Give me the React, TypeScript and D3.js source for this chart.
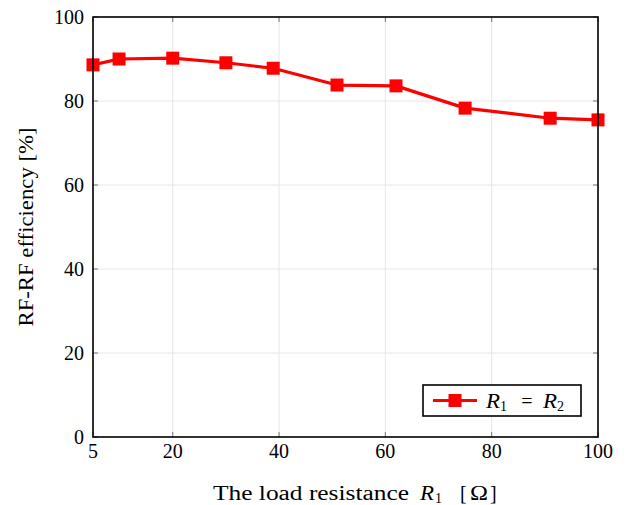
import React from "react";
import * as d3 from "d3";

const resistance = [5, 9.9, 20, 30, 38.9, 50.9, 62, 75, 91, 100];
const efficiency = [88.6, 90.0, 90.2, 89.1, 87.8, 83.8, 83.6, 78.3, 75.9, 75.5];
const xTicks = [5, 20, 40, 60, 80, 100];
const yTicks = [0, 20, 40, 60, 80, 100];

const W = 626, H = 505;
const m = { left: 93, right: 598, top: 17, bottom: 437 };
const font = "'Liberation Serif', serif";

export default function App() {
  const x = d3.scaleLinear().domain([5, 100]).range([m.left, m.right]);
  const y = d3.scaleLinear().domain([0, 100]).range([m.bottom, m.top]);
  const pts: [number, number][] = resistance.map((r, i) => [r, efficiency[i]]);
  const line = d3.line<[number, number]>().x(d => x(d[0])).y(d => y(d[1]));
  const ms = 13;
  return (
    <svg width={W} height={H} style={{ position: "absolute", left: 0, top: 0 }} fontFamily={font}>
      <rect x={0} y={0} width={W} height={H} fill="#fff" />
      {xTicks.map(t => (
        <line key={"gx" + t} x1={x(t)} x2={x(t)} y1={m.top} y2={m.bottom} stroke="#e6e6e6" strokeWidth={1} />
      ))}
      {yTicks.map(t => (
        <line key={"gy" + t} x1={m.left} x2={m.right} y1={y(t)} y2={y(t)} stroke="#e6e6e6" strokeWidth={1} />
      ))}
      {xTicks.map(t => (
        <g key={"tx" + t}>
          <line x1={x(t)} x2={x(t)} y1={m.bottom} y2={m.bottom - 5} stroke="#777" />
          <line x1={x(t)} x2={x(t)} y1={m.top} y2={m.top + 5} stroke="#777" />
          <text x={x(t)} y={m.bottom + 21} textAnchor="middle" fontSize={20}>{t}</text>
        </g>
      ))}
      {yTicks.map(t => (
        <g key={"ty" + t}>
          <line x1={m.left} x2={m.left + 5} y1={y(t)} y2={y(t)} stroke="#777" />
          <line x1={m.right} x2={m.right - 5} y1={y(t)} y2={y(t)} stroke="#777" />
          <text x={m.left - 9} y={y(t) + 7} textAnchor="end" fontSize={20}>{t}</text>
        </g>
      ))}
      <path d={line(pts) || ""} fill="none" stroke="#ff0000" strokeWidth={3.2} strokeLinejoin="round" />
      {pts.map((p, i) => (
        <rect key={i} x={x(p[0]) - ms / 2} y={y(p[1]) - ms / 2} width={ms} height={ms} fill="#ff0000" />
      ))}
      <rect x={m.left} y={m.top} width={m.right - m.left} height={m.bottom - m.top} fill="none" stroke="#000" strokeWidth={1.6} />
      <g fontSize={20}>
        <rect x={423} y={385} width={158} height={31} fill="#fff" stroke="#000" strokeWidth={1.6} />
        <line x1={433} x2={477} y1={400.5} y2={400.5} stroke="#ff0000" strokeWidth={3.2} />
        <rect x={455 - ms / 2} y={400.5 - ms / 2} width={ms} height={ms} fill="#ff0000" />
        <text x={486} y={407.5} fontStyle="italic" textLength={14} lengthAdjust="spacingAndGlyphs">R</text>
        <text x={500} y={410.5} fontSize={14}>1</text>
        <text x={527} y={407.5} textAnchor="middle">=</text>
        <text x={543} y={407.5} fontStyle="italic" textLength={14} lengthAdjust="spacingAndGlyphs">R</text>
        <text x={557} y={410.5} fontSize={14}>2</text>
      </g>
      <g fontSize={20}>
        <text x={213} y={500} textLength={196} lengthAdjust="spacingAndGlyphs">The load resistance</text>
        <text x={420} y={500} fontStyle="italic" textLength={14} lengthAdjust="spacingAndGlyphs">R</text>
        <text x={435} y={503} fontSize={14}>1</text>
        <text x={460} y={500}>[</text>
        <text x={479} y={500} textAnchor="middle" textLength={18} lengthAdjust="spacingAndGlyphs">Ω</text>
        <text x={490} y={500}>]</text>
      </g>
      <text transform={`translate(33, ${(m.top + m.bottom) / 2}) rotate(-90)`} textAnchor="middle" fontSize={20} textLength={199} lengthAdjust="spacingAndGlyphs">
        RF-RF efficiency [%]
      </text>
    </svg>
  );
}
